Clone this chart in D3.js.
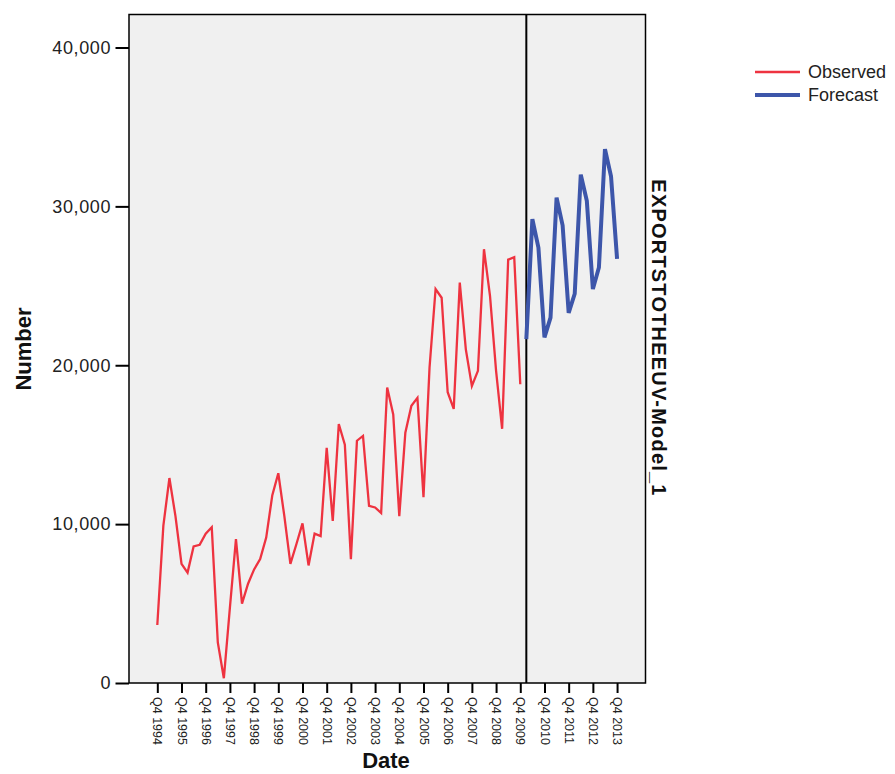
<!DOCTYPE html>
<html>
<head>
<meta charset="utf-8">
<script src="https://cdn.jsdelivr.net/npm/d3@7"></script>
<style>
    body { margin: 0; background: #ffffff; }
    svg { font-family: "Liberation Sans", Arial, sans-serif; }
</style>
</head>
<body>
<svg id="chart" width="895" height="774"></svg>
<script>

// quarterly values, Q4 1994 .. Q4 2009 (observed) and Q1 2010 .. Q4 2013 (forecast)
const observedValues = [
    3650, 9900, 12900, 10500, 7500, 6950, 8600, 8700, 9400, 9800,
    2550, 300, 4750, 9050, 5000, 6250, 7150, 7800, 9150, 11800,
    13200, 10500, 7500, 8750, 10050, 7400, 9400, 9250, 14800, 10200,
    16300, 15000, 7800, 15250, 15550, 11150, 11050, 10700, 18600, 16900,
    10500, 15750, 17450, 17950, 11700, 19850, 24800, 24250, 18300, 17250,
    25200, 21000, 18700, 19650, 27300, 24350, 19650, 16000, 26650, 26800,
    18800
];

const forecastValues = [
    21650, 29200, 27400, 21750, 23000, 30550, 28800, 23300,
    24500, 32000, 30350, 24800, 26150, 33600, 31900, 26700
];

const tickLabels = [
    "Q4 1994", "Q4 1995", "Q4 1996", "Q4 1997", "Q4 1998", "Q4 1999", "Q4 2000",
    "Q4 2001", "Q4 2002", "Q4 2003", "Q4 2004", "Q4 2005", "Q4 2006", "Q4 2007",
    "Q4 2008", "Q4 2009", "Q4 2010", "Q4 2011", "Q4 2012", "Q4 2013"
];

const yTicks = [0, 10000, 20000, 30000, 40000];

const seriesNames = ["Observed", "Forecast"];
const seriesColors = ["#ee3340", "#3d56aa"];
const seriesWidths = [2.3, 4];

const panelLabel = "EXPORTSTOTHEEUV-Model_1";

const drawChart = function() {

    const svg = d3.select("#chart");

    const plot = {left: 129, right: 645.5, top: 14.5, bottom: 683};

    // index 0 = Q4 1994, one step per quarter
    const x_scale = d3.scaleLinear()
    .domain([-4.68, 80.7])
    .range([plot.left, plot.right]);

    const y_scale = d3.scaleLinear()
    .domain([0, 40000])
    .range([plot.bottom, 47.5]);

    const observed = observedValues.map((v, i) => ({ idx: i, value: v }));
    const forecast = forecastValues.map((v, i) => ({ idx: observedValues.length + i, value: v }));

    svg.append("rect")
    .attr("x", plot.left)
    .attr("y", plot.top)
    .attr("width", plot.right - plot.left)
    .attr("height", plot.bottom - plot.top)
    .attr("fill", "#f0f0f0")
    .attr("stroke", "none");

    const line = d3.line()
    .x(function(d) { return x_scale(d.idx) })
    .y(function(d) { return y_scale(d.value) });

    svg.append("path")
    .datum(observed)
    .attr("fill", "none")
    .attr("stroke", seriesColors[0])
    .attr("stroke-width", seriesWidths[0])
    .attr("stroke-linejoin", "miter")
    .attr("d", line);

    // start of the forecast period
    svg.append("line")
    .attr("x1", x_scale(observedValues.length))
    .attr("x2", x_scale(observedValues.length))
    .attr("y1", plot.top)
    .attr("y2", plot.bottom)
    .attr("stroke", "#000")
    .attr("stroke-width", 2);

    svg.append("path")
    .datum(forecast)
    .attr("fill", "none")
    .attr("stroke", seriesColors[1])
    .attr("stroke-width", seriesWidths[1])
    .attr("stroke-linejoin", "miter")
    .attr("d", line);

    svg.append("rect")
    .attr("x", plot.left)
    .attr("y", plot.top)
    .attr("width", plot.right - plot.left)
    .attr("height", plot.bottom - plot.top)
    .attr("fill", "none")
    .attr("stroke", "#000")
    .attr("stroke-width", 1.5);

    // y axis
    const yAxis = svg.append("g")
    .attr("transform", "translate(" + plot.left + ",0)")
    .call(d3.axisLeft(y_scale)
        .tickValues(yTicks)
        .tickSize(13.5)
        .tickPadding(4.5)
        .tickFormat(d3.format(",")));

    yAxis.select(".domain").remove();
    yAxis.selectAll(".tick line").attr("stroke", "#000").attr("stroke-width", 2);
    yAxis.selectAll(".tick text")
    .attr("fill", "#222")
    .style("font-size", "18px")
    .style("letter-spacing", "0.6px");

    // x axis
    const xAxis = svg.append("g")
    .attr("transform", "translate(0," + plot.bottom + ")")
    .call(d3.axisBottom(x_scale)
        .tickValues(tickLabels.map((d, i) => i * 4))
        .tickSize(10)
        .tickFormat((d, i) => tickLabels[i]));

    xAxis.select(".domain").remove();
    xAxis.selectAll(".tick line").attr("stroke", "#000").attr("stroke-width", 2);
    xAxis.selectAll(".tick text")
    .attr("fill", "#222")
    .attr("x", 14)
    .attr("y", 0)
    .attr("dy", "0.35em")
    .attr("text-anchor", "start")
    .attr("transform", "rotate(90)")
    .style("font-size", "12.5px");

    svg.append("text")
    .attr("x", 386)
    .attr("y", 768)
    .attr("text-anchor", "middle")
    .style("font-size", "22px")
    .style("font-weight", "bold")
    .attr("fill", "#111")
    .text("Date");

    svg.append("text")
    .attr("text-anchor", "middle")
    .attr("transform", "translate(31,349) rotate(-90)")
    .style("font-size", "22px")
    .style("font-weight", "bold")
    .attr("fill", "#111")
    .text("Number");

    svg.append("text")
    .attr("text-anchor", "middle")
    .attr("transform", "translate(652,338) rotate(90)")
    .style("font-size", "20px")
    .style("font-weight", "bold")
    .style("letter-spacing", "1.2px")
    .attr("fill", "#111")
    .text(panelLabel);

    // legend
    const legend = svg.append("g").attr("transform", "translate(755,72)");

    const items = legend.selectAll("g")
    .data(seriesNames)
    .enter()
    .append("g")
    .attr("transform", (d, i) => "translate(0," + (i * 23) + ")");

    items.append("line")
    .attr("x1", 0)
    .attr("x2", 45)
    .attr("stroke", (d, i) => seriesColors[i])
    .attr("stroke-width", (d, i) => seriesWidths[i]);

    items.append("text")
    .attr("x", 53)
    .attr("dy", "0.35em")
    .style("font-size", "18px")
    .attr("fill", "#222")
    .text(d => d);
};

drawChart();

</script>
</body>
</html>
